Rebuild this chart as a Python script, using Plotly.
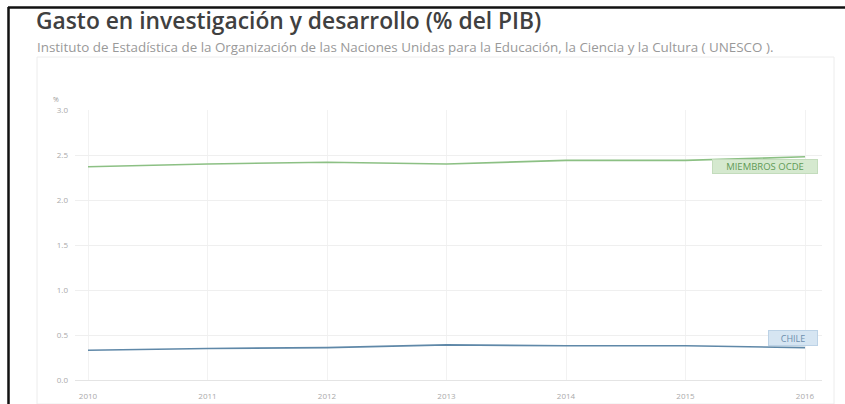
import plotly.graph_objects as go

# Series data
years = [2010, 2011, 2012, 2013, 2014, 2015, 2016]
chile = [0.33, 0.35, 0.36, 0.39, 0.38, 0.38, 0.36]
ocde = [2.37, 2.40, 2.42, 2.40, 2.44, 2.44, 2.48]
y_ticks = [0.0, 0.5, 1.0, 1.5, 2.0, 2.5, 3.0]
y_tick_text = ["0.0", "0.5", "1.0", "1.5", "2.0", "2.5", "3.0"]
x_tick_text = [str(y) for y in years]

W, H = 845, 404


def px(x):
    return x / W


def py(y):
    return 1 - y / H


GREEN = "#8cc084"
BLUE = "#5f88a8"

fig = go.Figure()
fig.add_trace(go.Scatter(x=years, y=ocde, mode="lines", line=dict(color=GREEN, width=1.6),
                         name="MIEMBROS OCDE", hoverinfo="x+y", cliponaxis=False))
fig.add_trace(go.Scatter(x=years, y=chile, mode="lines", line=dict(color=BLUE, width=1.6),
                         name="CHILE", hoverinfo="x+y", cliponaxis=False))

# pixel mapping: 2010 -> 88px, 2016 -> 805px
ppy = (805 - 88) / 6
x0, x1 = 75, 822
xr = [2010 - (88 - x0) / ppy, 2016 + (x1 - 805) / ppy]

fig.update_layout(
    width=W, height=H,
    margin=dict(l=0, r=0, t=0, b=0),
    paper_bgcolor="white", plot_bgcolor="white",
    showlegend=False,
    font=dict(family="Open Sans", color="#999"),
    xaxis=dict(domain=[px(x0), px(x1)], range=xr, tickvals=years, ticktext=x_tick_text,
               showgrid=True, gridcolor="#f2f2f2", zeroline=False,
               showline=True, linecolor="#e4e4e4", ticks="", tickfont=dict(size=8, color="#aaa"),
               ticklabelstandoff=8, automargin=False, fixedrange=True),
    yaxis=dict(domain=[py(380), py(110)], range=[0, 3.0], tickvals=y_ticks, ticktext=y_tick_text,
               showgrid=True, gridcolor="#efefef", zeroline=False, showline=False, ticks="",
               tickfont=dict(size=8, color="#aaa"), ticklabelstandoff=6,
               automargin=False, fixedrange=True),
)

annotations = [
    dict(text="Gasto en investigación y desarrollo (% del PIB)", xref="paper", yref="paper",
         x=px(34), y=py(20), xanchor="left", yanchor="middle", showarrow=False,
         font=dict(size=22.8, color="#404040", family="Open Sans", weight=600)),
    dict(text="Instituto de Estadística de la Organización de las Naciones Unidas para la Educación, "
              "la Ciencia y la Cultura ( UNESCO ).",
         xref="paper", yref="paper", x=px(35), y=py(47), xanchor="left", yanchor="middle",
         showarrow=False, font=dict(size=13.4, color="#999", family="Open Sans")),
    dict(text="%", xref="paper", yref="paper", x=px(56), y=py(99), xanchor="center",
         yanchor="middle", showarrow=False, font=dict(size=7, color="#999")),
    dict(text="MIEMBROS OCDE", x=2016, y=ocde[-1], xref="x", yref="y", xanchor="right",
         yanchor="top", xshift=13, yshift=-2, showarrow=False, bgcolor="#d5e9cf",
         bordercolor="#c3dcbc", borderwidth=1, borderpad=1, width=102, height=11,
         font=dict(size=9.5, color="#5f9a56")),
    dict(text="CHILE", x=2016, y=chile[-1], xref="x", yref="y", xanchor="right",
         yanchor="bottom", xshift=13, yshift=2, showarrow=False, bgcolor="#d6e5f2",
         bordercolor="#bcd2e6", borderwidth=1, borderpad=1, width=46, height=12,
         font=dict(size=9, color="#6d8fae")),
]
fig.update_layout(annotations=annotations)

shapes = [
    # outer dark frame
    dict(type="line", xref="paper", yref="paper", x0=px(8), x1=px(845), y0=py(7.5), y1=py(7.5),
         line=dict(color="#111", width=2.5)),
    dict(type="line", xref="paper", yref="paper", x0=px(8.5), x1=px(8.5), y0=py(7), y1=py(404),
         line=dict(color="#111", width=2.5)),
    # light chart panel
    dict(type="rect", xref="paper", yref="paper", x0=px(37), x1=px(834), y0=py(404), y1=py(57),
         line=dict(color="#ececec", width=1), layer="below"),
]
fig.update_layout(shapes=shapes)

fig.write_html("out.html")
